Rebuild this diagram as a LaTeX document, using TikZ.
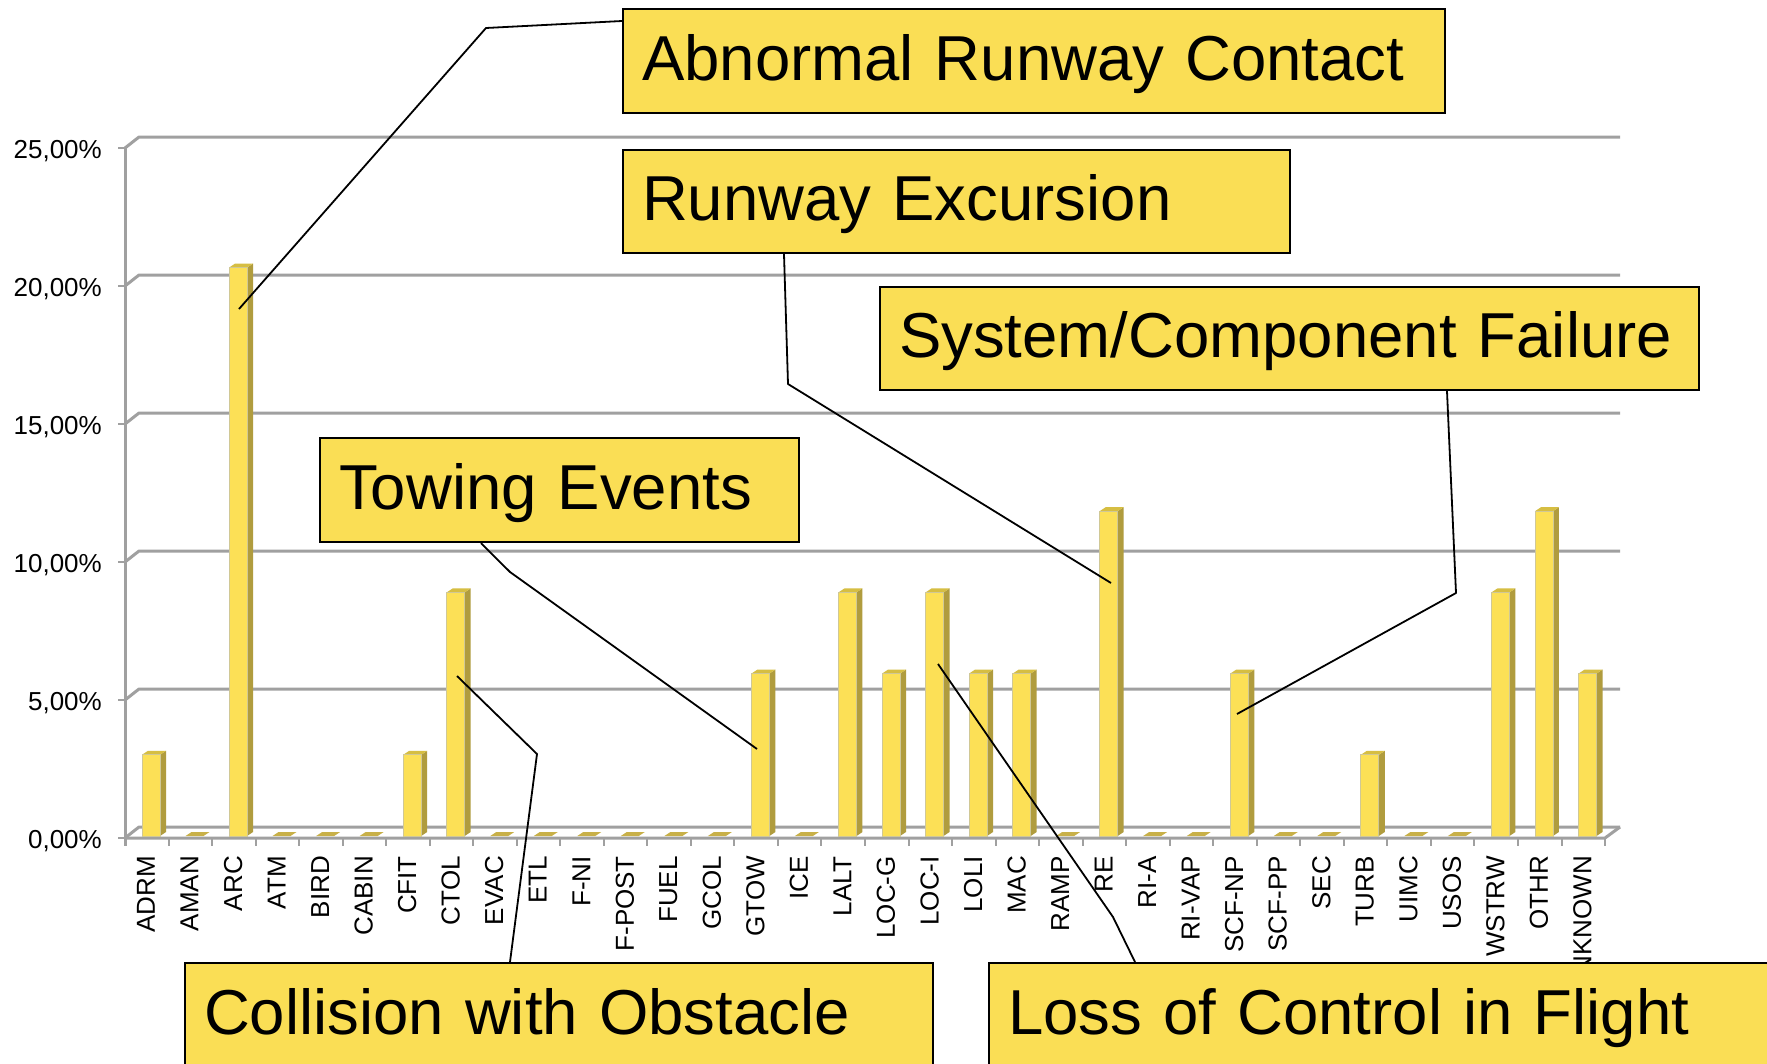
\documentclass[tikz,border=0pt]{standalone}
\usepackage{fontspec}
\setmainfont{Liberation Sans}
\definecolor{boxY}{RGB}{250,222,85}
\definecolor{barF}{RGB}{252,224,86}
\definecolor{barS}{RGB}{176,156,62}
\definecolor{barT}{RGB}{214,190,66}
\definecolor{barZ}{RGB}{200,176,72}
\definecolor{barE}{RGB}{208,200,150}
\definecolor{gridC}{RGB}{160,160,160}
\begin{document}
\begin{tikzpicture}[x=1pt,y=-1pt,
  gridl/.style={draw=gridC, line width=3pt, line join=round},
  tickl/.style={draw=gridC, line width=2pt},
  barface/.style={fill=barF, draw=barE, line width=0.8pt},
  barside/.style={fill=barS},
  bartop/.style={fill=barT},
  barzero/.style={fill=barZ},
  catlab/.style={rotate=90, anchor=east, inner sep=0pt, font=\fontsize{26}{26}\selectfont},
  ylab/.style={anchor=base east, inner sep=0pt, font=\fontsize{26}{26}\selectfont},
  bigbox/.style={draw=black, line width=2.2pt, fill=boxY, anchor=north west,
    inner xsep=19pt, inner ysep=0pt, align=left,
    font=\fontsize{63.5}{64}\selectfont, text height=51pt, text depth=13pt,
    minimum height=104pt},
  leader/.style={draw=black, line width=1.8pt, line join=round}]
\useasboundingbox (0,0) rectangle (1767,1063);
\fill[white] (0,0) rectangle (1767,1063);
% gridlines and y labels
\foreach \k/\lab in {0/{0,00\%},1/{5,00\%},2/{10,00\%},3/{15,00\%},4/{20,00\%},5/{25,00\%}} {
  \pgfmathsetmacro\Y{838-\k*138}
  \draw[gridl] (125,\Y) -- (139,\Y-11) -- (1620,\Y-11);
  \draw[tickl] (118,\Y) -- (125,\Y);
  \node[ylab] (y\k) at (102,\Y+10) {\lab};
}
% front left axis and floor
\draw[gridl] (125,148) -- (125,846);
\draw[gridl] (125,838) -- (1605,838) -- (1620,827);
\foreach \j in {0,...,34} {
  \draw[tickl] (125+\j*43.53,838) -- (125+\j*43.53,846);
}
% bars and category labels
\foreach \n/\v [count=\i from 0] in {ADRM/1,AMAN/0,ARC/7,ATM/0,BIRD/0,CABIN/0,CFIT/1,CTOL/3,EVAC/0,ETL/0,F-NI/0,F-POST/0,FUEL/0,GCOL/0,GTOW/2,ICE/0,LALT/3,LOC-G/2,LOC-I/3,LOLI/2,MAC/2,RAMP/0,RE/4,RI-A/0,RI-VAP/0,SCF-NP/2,SCF-PP/0,SEC/0,TURB/1,UIMC/0,USOS/0,WSTRW/3,OTHR/4,UNKNOWN/2} {
  \pgfmathsetmacro\L{125+\i*43.53}
  \pgfmathsetmacro\T{836-\v*81.2}
  \ifnum\v>0
    \fill[barside] (\L+35,836) -- (\L+41,832) -- (\L+41,\T-4) -- (\L+35,\T) -- cycle;
    \fill[bartop] (\L+17,\T) -- (\L+23,\T-4) -- (\L+41,\T-4) -- (\L+35,\T) -- cycle;
    \draw[barface] (\L+17,836) rectangle (\L+35,\T);
  \else
    \fill[barzero] (\L+17,836) -- (\L+23,832) -- (\L+41,832) -- (\L+35,836) -- cycle;
  \fi
  \node[catlab] (c\i) at (\L+21,856) {\n};
}
% callout boxes
\node[bigbox, minimum width=822pt, text width=784pt] (bARC) at (622,8) {Abnormal Runway Contact};
\node[bigbox, minimum width=667pt, text width=629pt, minimum height=103pt] (bRE) at (622,149) {Runway Excursion};
\node[bigbox, minimum width=819pt, text width=781pt, minimum height=103pt] (bSCF) at (879,286) {System/Component Failure};
\node[bigbox, minimum width=479pt, text width=441pt] (bTOW) at (319,437) {Towing Events};
\node[bigbox, minimum width=748pt, text width=710pt] (bCOL) at (184,962) {Collision with Obstacle};
\node[bigbox, minimum width=820pt, text width=782pt] (bLOC) at (988,962) {Loss of Control in Flight};
% leader lines
\coordinate (sARC) at (0,21);   \coordinate (kARC) at (486,28);   \coordinate (eARC) at (239,309);
\coordinate (sRE) at (784,0);   \coordinate (kRE) at (788,384);   \coordinate (eRE) at (1111,583);
\coordinate (sSCF) at (1447,0); \coordinate (kSCF) at (1456,593); \coordinate (eSCF) at (1237,714);
\coordinate (sTOW) at (481,0);  \coordinate (kTOW) at (510,572);  \coordinate (eTOW) at (757,749);
\coordinate (sCOL) at (510,0);  \coordinate (kCOL) at (537,754);  \coordinate (eCOL) at (457,676);
\coordinate (sLOC) at (1135,0); \coordinate (kLOC) at (1113,917); \coordinate (eLOC) at (938,664);
\draw[leader] (bARC.west |- sARC) -- (kARC) -- (eARC);
\draw[leader] (bRE.south -| sRE) -- (kRE) -- (eRE);
\draw[leader] (bSCF.south -| sSCF) -- (kSCF) -- (eSCF);
\draw[leader] (bTOW.south -| sTOW) -- (kTOW) -- (eTOW);
\draw[leader] (bCOL.north -| sCOL) -- (kCOL) -- (eCOL);
\draw[leader] (bLOC.north -| sLOC) -- (kLOC) -- (eLOC);
\end{tikzpicture}
\end{document}
